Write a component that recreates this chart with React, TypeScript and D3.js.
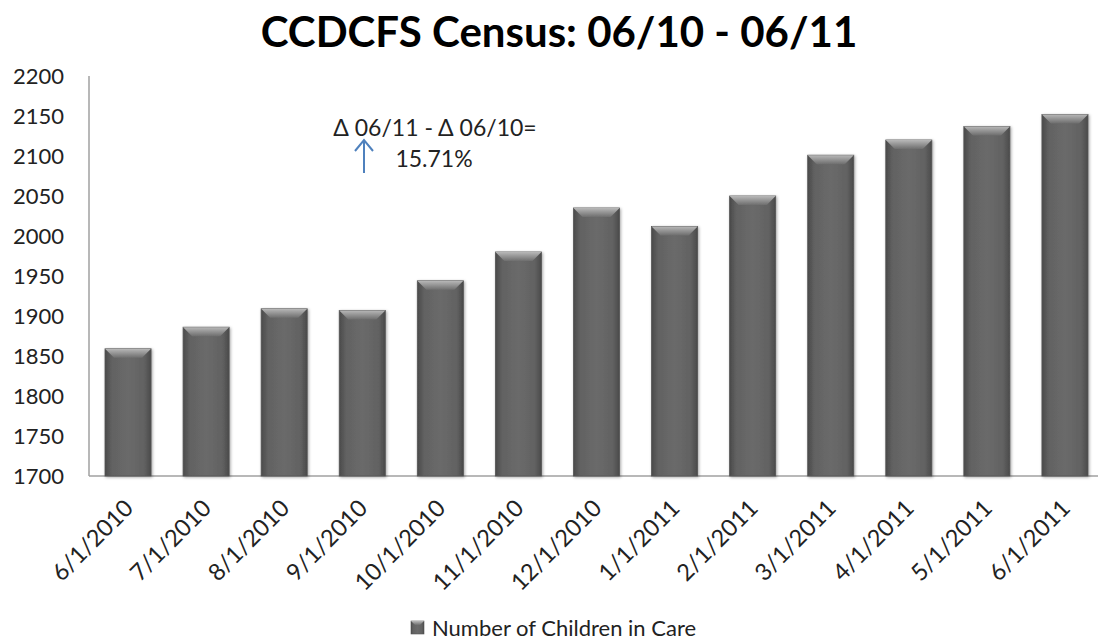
import React from 'react';
import * as d3 from 'd3';

const categories = ['6/1/2010', '7/1/2010', '8/1/2010', '9/1/2010', '10/1/2010', '11/1/2010', '12/1/2010',
  '1/1/2011', '2/1/2011', '3/1/2011', '4/1/2011', '5/1/2011', '6/1/2011'];
const children = [1859, 1886, 1909, 1907, 1944, 1980, 2035, 2012, 2050, 2101, 2120, 2137, 2152];
const yTicks = [1700, 1750, 1800, 1850, 1900, 1950, 2000, 2050, 2100, 2150, 2200];

const width = 1098;
const height = 644;
const margin = { top: 76, left: 89, bottom: 476, right: 1104 };
const font = 'Lato, "Open Sans", sans-serif';

const App = () => {
  const x = d3.scaleBand<string>()
    .domain(categories)
    .range([margin.left, margin.right])
    .paddingInner(0.41)
    .paddingOuter(0.205);

  const y = d3.scaleLinear()
    .domain([1700, 2200])
    .range([margin.bottom, margin.top]);

  const bw = x.bandwidth();
  const bevel = 9;

  return (
    <svg width={width} height={height} style={{ position: 'absolute', left: 0, top: 0, background: '#fff' }}>
      <defs>
        <linearGradient id="barBody" x1="0" x2="1" y1="0" y2="0">
          <stop offset="0" stopColor="#4a4a4a" />
          <stop offset="0.15" stopColor="#626262" />
          <stop offset="0.5" stopColor="#6a6a6a" />
          <stop offset="0.85" stopColor="#626262" />
          <stop offset="1" stopColor="#4a4a4a" />
        </linearGradient>
        <linearGradient id="barTop" x1="0" x2="0" y1="0" y2="1">
          <stop offset="0" stopColor="#b8b8b8" />
          <stop offset="1" stopColor="#6e6e6e" />
        </linearGradient>
        <filter id="shadow" x="-20%" y="-10%" width="140%" height="120%">
          <feDropShadow dx="1" dy="1" stdDeviation="1.5" floodColor="#000" floodOpacity="0.35" />
        </filter>
      </defs>

      {/* title */}
      <text x={559} y={47} textAnchor="middle" fontFamily={font} fontWeight="bold" fontSize={42} fill="#000">
        CCDCFS Census: 06/10 - 06/11
      </text>

      {/* y axis labels */}
      {yTicks.map(t => (
        <text key={t} x={64} y={y(t)} dy="0.35em" textAnchor="end" fontFamily={font} fontSize={22} fill="#222">
          {t}
        </text>
      ))}

      {/* axes */}
      <line x1={margin.left} x2={margin.left} y1={margin.top} y2={margin.bottom} stroke="#a0a0a0" strokeWidth={1.5} />
      <line x1={margin.left} x2={margin.right} y1={margin.bottom} y2={margin.bottom} stroke="#a0a0a0" strokeWidth={1.5} />

      {/* bars */}
      {categories.map((c, i) => {
        const bx = x(c) as number;
        const by = y(children[i]);
        const bh = margin.bottom - by;
        return (
          <g key={c} filter="url(#shadow)">
            <rect x={bx} y={by} width={bw} height={bh} fill="url(#barBody)" stroke="#555" strokeWidth={0.8} />
            <polygon
              points={`${bx},${by} ${bx + bw},${by} ${bx + bw - bevel},${by + bevel} ${bx + bevel},${by + bevel}`}
              fill="url(#barTop)"
            />
          </g>
        );
      })}

      {/* x labels */}
      {categories.map(c => {
        const cx = (x(c) as number) + bw / 2 - 5;
        const cy = margin.bottom + 22;
        return (
          <text key={c} transform={`translate(${cx},${cy}) rotate(-45)`} textAnchor="end" dy="0.7em"
            fontFamily={font} fontSize={23.5} fill="#222">
            {c}
          </text>
        );
      })}

      {/* annotation */}
      <text x={435} y={128} dy="0.35em" textAnchor="middle" fontFamily={font} fontSize={23} fill="#222">
        Δ 06/11 - Δ 06/10=
      </text>
      <text x={434} y={159} dy="0.35em" textAnchor="middle" fontFamily={font} fontSize={23} fill="#222">
        15.71%
      </text>
      <g stroke="#4f81bd" strokeWidth={2} fill="none">
        <line x1={364} x2={364} y1={173} y2={140} />
        <polyline points="355,151 364,140 373,151" />
      </g>

      {/* legend */}
      <rect x={411} y={621} width={13} height={13} fill="url(#barBody)" stroke="#555" strokeWidth={0.6} />
      <polygon points="411,621 424,621 420,625 415,625" fill="url(#barTop)" />
      <text x={432} y={628} dy="0.35em" fontFamily={font} fontSize={22} fill="#222">
        Number of Children in Care
      </text>
    </svg>
  );
};

export default App;
